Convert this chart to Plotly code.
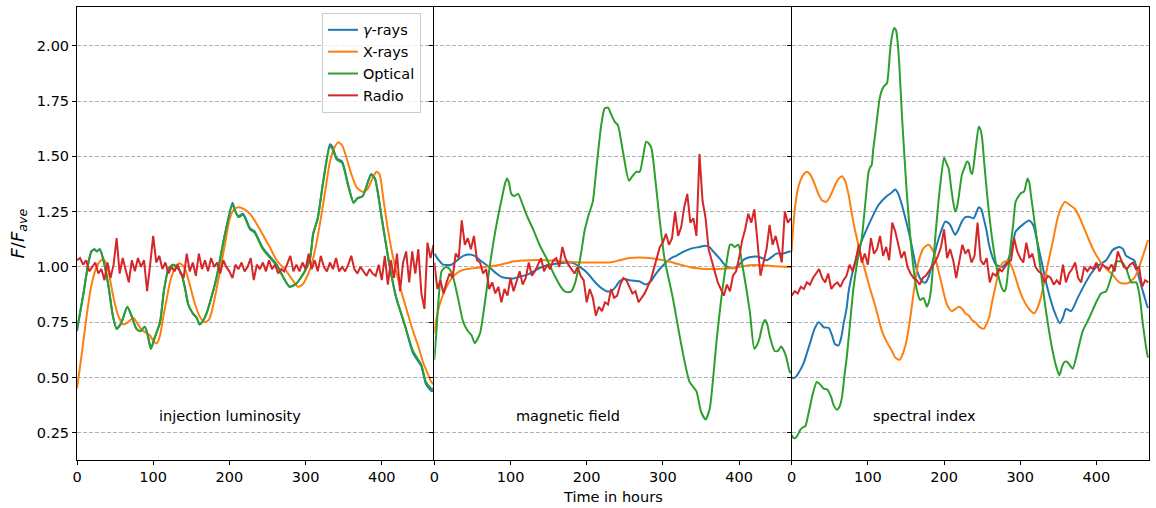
import plotly.graph_objects as go
from plotly.subplots import make_subplots

# ---------------------------------------------------------------- data
# (time in hours, F/F_ave) samples for the smooth light curves
gamma_inj = [(0, 0.71), (8, 0.87), (15, 1.02), (19, 1.07), (23, 1.08), (26, 1.07), (30, 1.08), (34, 1.04),
             (41, 0.92), (47, 0.78), (52, 0.72), (58, 0.745), (66, 0.82), (72, 0.775), (78, 0.72), (83, 0.71),
             (89, 0.73), (93, 0.69), (97, 0.63), (102, 0.68), (109, 0.75), (114, 0.89), (120, 0.99), (126, 1.01),
             (131, 1.00), (137, 0.97), (142, 0.90), (146, 0.83), (152, 0.79), (157, 0.77), (161, 0.74), (166, 0.76),
             (170, 0.79), (177, 0.87), (183, 0.95), (194, 1.145), (204, 1.29), (208, 1.25), (212, 1.23), (218, 1.24),
             (227, 1.175), (233, 1.16), (244, 1.085), (262, 1.01), (279, 0.91), (288, 0.925), (299, 0.98), (306, 1.04),
             (310, 1.15), (316, 1.22), (323, 1.385), (332, 1.555), (335, 1.545), (341, 1.49), (348, 1.476), (356, 1.37),
             (363, 1.29), (368, 1.31), (375, 1.32), (386, 1.42), (391, 1.40), (400, 1.22), (410, 1.01), (419, 0.86),
             (430, 0.74), (441, 0.61), (452, 0.55), (458, 0.47), (465, 0.44), (468, 0.44)]

xray_inj = [(0, 0.45), (6, 0.60), (12.7, 0.78), (18, 0.90), (23.6, 0.98), (29, 1.02), (34.5, 1.036), (39, 1.01),
            (43, 0.95), (48, 0.86), (54, 0.78), (61, 0.74), (67, 0.75), (74, 0.77), (80, 0.74), (85, 0.715),
            (96, 0.69), (101, 0.66), (105, 0.655), (109, 0.69), (113, 0.77), (118, 0.86), (122, 0.93), (128, 0.99),
            (133, 1.015), (138, 1.01), (142, 0.99), (148, 0.92), (155, 0.83), (162, 0.77), (168, 0.75), (173, 0.76),
            (177, 0.80), (182, 0.88), (187.5, 0.98), (194, 1.10), (200.6, 1.22), (206, 1.26), (211.6, 1.27), (220, 1.26),
            (227, 1.24), (235, 1.20), (244, 1.145), (253, 1.09), (262, 1.03), (275, 0.98), (283, 0.94), (290, 0.91),
            (296, 0.92), (301, 0.95), (306, 0.99), (310, 1.04), (315, 1.12), (321, 1.24), (327, 1.37), (332, 1.476),
            (338, 1.54), (343, 1.563), (348, 1.55), (354, 1.49), (360, 1.42), (367, 1.36), (375, 1.34), (381, 1.35),
            (386.5, 1.39), (393, 1.43), (397, 1.42), (402, 1.31), (408, 1.17), (415, 1.04), (421, 0.95), (428, 0.86),
            (434, 0.79), (441, 0.71), (448, 0.64), (454, 0.57), (460, 0.52), (465, 0.48), (468, 0.47)]

optical_inj = [(0, 0.72), (8, 0.87), (15, 1.02), (19, 1.07), (23, 1.08), (26, 1.07), (30, 1.08), (34, 1.04),
               (41, 0.92), (47, 0.78), (52, 0.72), (58, 0.745), (66, 0.82), (72, 0.775), (78, 0.72), (83, 0.71),
               (89, 0.73), (93, 0.69), (97, 0.63), (102, 0.68), (109, 0.75), (114, 0.89), (120, 0.99), (126, 1.01),
               (131, 1.00), (137, 0.97), (142, 0.90), (146, 0.83), (152, 0.79), (157, 0.77), (161, 0.74), (166, 0.76),
               (170, 0.79), (177, 0.87), (183, 0.95), (194, 1.145), (204, 1.28), (208, 1.25), (212, 1.225), (218, 1.235),
               (227, 1.17), (233, 1.155), (244, 1.08), (262, 1.005), (279, 0.91), (288, 0.925), (299, 0.98), (306, 1.04),
               (310, 1.15), (316, 1.22), (323, 1.38), (332, 1.545), (335, 1.535), (341, 1.485), (348, 1.47), (356, 1.365),
               (363, 1.29), (368, 1.31), (375, 1.32), (386, 1.415), (391, 1.40), (400, 1.22), (410, 1.01), (419, 0.86),
               (430, 0.74), (441, 0.62), (452, 0.557), (458, 0.48), (465, 0.45), (468, 0.45)]

gamma_mag = [(0, 1.06), (6, 1.03), (11.6, 1.01), (22.5, 1.01), (30, 1.03), (38, 1.05), (46, 1.056), (53, 1.05),
             (60, 1.03), (68, 1.01), (75, 0.99), (81.5, 0.97), (88, 0.955), (94.6, 0.95), (104, 0.948), (112, 0.955),
             (125, 0.97), (138, 0.995), (151.5, 1.01), (164.6, 1.017), (177.7, 1.02), (184, 1.015), (190.8, 1.0),
             (197, 0.985), (204, 0.96), (210, 0.935), (217, 0.91), (226, 0.89), (232, 0.89), (238, 0.91), (243, 0.935),
             (250, 0.945), (256, 0.94), (263, 0.937), (269, 0.935), (274, 0.925), (278, 0.92), (284, 0.935), (291, 0.97),
             (297, 0.995), (304, 1.02), (311, 1.04), (317.5, 1.05), (328, 1.07), (339, 1.085), (348, 1.09), (355, 1.096),
             (361, 1.09), (366, 1.07), (374, 1.04), (381, 1.01), (388, 0.995), (394, 0.995), (400, 1.01), (407, 1.035),
             (415, 1.045), (423, 1.047), (430, 1.04), (436, 1.03), (443, 1.045), (449, 1.06), (457.6, 1.06),
             (466.4, 1.07), (468, 1.07)]

xray_mag = [(0, 0.70), (3, 0.77), (7, 0.83), (11, 0.87), (16, 0.91), (22, 0.945), (29, 0.97), (35, 0.983), (42, 0.99),
            (60, 0.997), (81.5, 1.006), (103, 1.024), (125, 1.03), (147, 1.03), (169, 1.024), (191, 1.02), (213, 1.02),
            (230, 1.02), (243, 1.03), (256, 1.04), (270, 1.042), (282, 1.04), (295, 1.033), (308, 1.024), (321, 1.012),
            (334.6, 1.0), (348, 0.993), (361, 0.99), (374, 0.99), (387, 0.994), (400, 1.0), (414, 1.008), (427, 1.008),
            (440, 1.005), (453, 1.002), (466, 1.0), (468, 1.0)]

optical_mag = [(0, 0.58), (3, 0.72), (5, 0.83), (9.4, 0.98), (11.6, 0.99), (15, 1.0), (20, 0.99), (25, 0.95),
               (31, 0.86), (38, 0.75), (44, 0.71), (49, 0.69), (53, 0.655), (56, 0.67), (60, 0.70), (66, 0.83),
               (73, 1.01), (81.5, 1.19), (89.5, 1.325), (93, 1.38), (95.5, 1.40), (98, 1.38), (101, 1.33), (105, 1.32),
               (110, 1.33), (115, 1.29), (121, 1.235), (130, 1.167), (138, 1.10), (147, 1.04), (158, 0.96), (166, 0.91),
               (171, 0.89), (176, 0.885), (180, 0.89), (185, 0.93), (189, 0.994), (193, 1.07), (197, 1.16), (203, 1.24),
               (208, 1.295), (212, 1.42), (215, 1.52), (219, 1.64), (223.6, 1.717), (228, 1.72), (232, 1.69),
               (236.6, 1.657), (241, 1.64), (247.6, 1.52), (255.4, 1.39), (260, 1.41), (265, 1.43), (269.6, 1.43),
               (274, 1.50), (278, 1.566), (281, 1.56), (285, 1.536), (289, 1.43), (293.6, 1.28), (302, 1.04),
               (313, 0.86), (324, 0.65), (335, 0.48), (344, 0.437), (350, 0.346), (356, 0.31), (361.5, 0.36),
               (366, 0.50), (370, 0.65), (379, 0.92), (384, 1.03), (388, 1.10), (391, 1.10), (394, 1.09), (399, 1.10),
               (405, 0.994), (414, 0.80), (420, 0.63), (424, 0.65), (427, 0.68), (431, 0.74), (434, 0.76), (437, 0.74),
               (440, 0.69), (446.6, 0.62), (451, 0.62), (455, 0.64), (459, 0.62), (462, 0.59), (466.4, 0.527),
               (468, 0.52)]

gamma_spec = [(0, 0.50), (2.6, 0.497), (6, 0.505), (9, 0.52), (15.7, 0.565), (20, 0.61), (24.5, 0.66), (30, 0.72),
              (35.4, 0.75), (40, 0.735), (42, 0.727), (48.5, 0.725), (53, 0.69), (57, 0.65), (61.6, 0.645), (65, 0.68),
              (68, 0.74), (72, 0.81), (74.8, 0.89), (81, 0.99), (90, 1.10), (101, 1.19), (114, 1.28), (125, 1.32),
              (131, 1.335), (136, 1.35), (140, 1.33), (144.7, 1.28), (150, 1.21), (155.6, 1.13), (164, 0.99),
              (169, 0.945), (173, 0.93), (176, 0.93), (179.7, 0.955), (185, 1.02), (190.6, 1.10), (196, 1.16),
              (201.5, 1.205), (205, 1.20), (208, 1.19), (214.6, 1.145), (219, 1.17), (223.4, 1.205), (228, 1.225),
              (232.5, 1.227), (239, 1.22), (245.6, 1.27), (249, 1.26), (252, 1.22), (256, 1.16), (259, 1.10),
              (264, 1.04), (268, 1.01), (276.4, 1.0), (280, 1.01), (285, 1.04), (290, 1.10), (294, 1.16), (303, 1.19),
              (311.5, 1.21), (315, 1.20), (318, 1.18), (322, 1.12), (327, 1.04), (336, 0.90), (344.6, 0.80),
              (352, 0.745), (356, 0.77), (360, 0.81), (366.7, 0.80), (375.4, 0.86), (386, 0.93), (393, 0.97),
              (399.7, 1.0), (412.8, 1.03), (421.5, 1.077), (430, 1.09), (435, 1.08), (439, 1.05), (444, 1.04),
              (449.7, 1.03), (456, 0.95), (462.6, 0.87), (467, 0.82), (468, 0.815)]

xray_spec = [(0, 1.07), (2, 1.18), (4.8, 1.28), (8, 1.35), (11.4, 1.39), (16, 1.42), (20, 1.43), (24, 1.42),
             (29, 1.385), (35, 1.33), (40, 1.30), (46, 1.295), (52, 1.33), (57, 1.37), (62, 1.40), (66, 1.41),
             (70, 1.39), (74.8, 1.325), (79, 1.24), (83.5, 1.16), (92, 1.04), (103, 0.90), (110, 0.82), (118.5, 0.71),
             (125, 0.66), (131.6, 0.62), (136, 0.59), (141.6, 0.58), (145, 0.60), (149, 0.64), (154, 0.73), (158, 0.83),
             (162, 0.93), (166.6, 1.024), (173, 1.084), (179.7, 1.10), (186, 1.07), (190, 1.02), (195, 0.95),
             (203.7, 0.83), (210, 0.80), (215, 0.81), (219, 0.82), (224, 0.81), (227.8, 0.79), (232.5, 0.78),
             (236.5, 0.76), (241, 0.75), (246, 0.73), (252, 0.72), (259, 0.77), (263, 0.84), (268, 0.92), (272, 0.98),
             (276.4, 1.016), (280, 1.025), (285, 1.024), (289, 1.0), (294, 0.95), (298, 0.905), (303, 0.86),
             (311.5, 0.81), (318, 0.79), (322, 0.81), (327, 0.86), (332, 0.94), (338, 1.04), (343, 1.12), (349, 1.22),
             (354, 1.27), (359, 1.295), (365, 1.28), (371, 1.265), (377, 1.23), (382, 1.19), (388, 1.14), (395, 1.084),
             (402, 1.04), (408, 1.01), (415, 0.985), (421.5, 0.964), (427, 0.94), (432.5, 0.926), (437, 0.925),
             (441, 0.926), (445, 0.935), (449.7, 0.95), (454, 0.98), (458.5, 1.024), (463, 1.07), (467, 1.114),
             (468, 1.12)]

optical_spec = [(0, 0.24), (2, 0.228), (4.8, 0.226), (8, 0.24), (11.4, 0.264), (15, 0.275), (18, 0.28), (21, 0.32),
                (24.5, 0.376), (28, 0.43), (33, 0.48), (37, 0.47), (42, 0.45), (46, 0.447), (48.5, 0.437), (52, 0.41),
                (55, 0.376), (59.5, 0.354), (63, 0.37), (66, 0.41), (69, 0.50), (72.6, 0.60), (77, 0.76), (81, 0.90),
                (86, 1.02), (92, 1.13), (97, 1.30), (101, 1.43), (103, 1.45), (105, 1.46), (107, 1.53), (110, 1.61),
                (115.4, 1.76), (118, 1.795), (120.7, 1.815), (125, 1.83), (127, 1.88), (129, 1.97), (131, 2.03),
                (134.6, 2.08), (137, 2.07), (139, 2.02), (141, 1.93), (144.7, 1.687), (148, 1.50), (151, 1.34),
                (158, 1.054), (164, 0.90), (168.7, 0.85), (173, 0.86), (177.5, 0.82), (180, 0.84), (182.7, 0.89),
                (185, 0.98), (188.4, 1.13), (192, 1.27), (195, 1.37), (200, 1.494), (203, 1.47), (206, 1.446),
                (210, 1.34), (214.6, 1.25), (217, 1.27), (219, 1.31), (223.4, 1.416), (227, 1.45), (230, 1.476),
                (232.5, 1.47), (235, 1.43), (237, 1.42), (241, 1.52), (245.6, 1.634), (248, 1.62), (250, 1.58),
                (253, 1.46), (256.6, 1.325), (263, 1.13), (270, 0.98), (276.4, 0.90), (279, 0.89), (281, 0.90),
                (284, 0.98), (287.6, 1.10), (291, 1.20), (294, 1.295), (300.7, 1.333), (305, 1.34), (309.5, 1.40),
                (312, 1.38), (314, 1.325), (320.5, 1.16), (327, 0.98), (333.8, 0.80), (342.5, 0.62), (348, 0.54),
                (351.3, 0.51), (355, 0.55), (358, 0.57), (362, 0.57), (366, 0.55), (369, 0.54), (375.4, 0.62),
                (382, 0.71), (390.6, 0.77), (399.7, 0.84), (406, 0.88), (412.8, 0.89), (419, 0.95), (426, 1.024),
                (432.5, 1.024), (439, 0.994), (445.7, 0.93), (452.3, 0.93), (456.6, 0.87), (461, 0.74), (467, 0.60),
                (468, 0.59)]

# radio light curves, sampled every 4 hours from 0 to 468 h
radio_t = list(range(0, 469, 4))

radio_inj = [1.03, 1.04, 1.01, 1.03, 0.98, 1.00, 1.02, 0.97, 0.99, 0.94,
             1.02, 0.95, 1.01, 1.13, 0.97, 1.04, 0.99, 0.93, 1.03, 0.98,
             1.04, 1.00, 1.03, 0.89, 1.01, 1.14, 1.02, 1.05, 0.99, 1.02,
             0.97, 1.00, 0.98, 1.01, 0.97, 0.95, 1.06, 0.98, 1.02, 0.96,
             1.06, 0.99, 1.03, 0.98, 1.04, 1.00, 1.02, 0.97, 1.03, 1.00,
             0.98, 0.95, 1.01, 0.99, 1.02, 0.98, 1.00, 1.04, 0.94, 1.01,
             0.99, 1.02, 0.98, 1.03, 0.99, 1.01, 0.97, 0.99, 0.98, 1.02,
             1.05, 0.98, 1.01, 0.98, 1.02, 0.99, 1.06, 0.99, 1.03, 0.98,
             1.05, 1.00, 0.98, 1.02, 0.99, 1.04, 0.98, 1.00, 0.98, 1.01,
             1.05, 0.99, 0.97, 1.00, 0.98, 0.96, 0.99, 0.97, 0.96, 1.01,
             0.94, 1.05, 0.92, 1.03, 0.95, 1.06, 0.89, 1.02, 1.07, 0.93,
             1.07, 0.97, 1.08, 0.88, 0.81, 1.11, 1.04, 1.10]

radio_mag = [1.02, 0.90, 0.94, 0.88, 0.93, 0.97, 0.95, 1.06, 1.04, 1.21,
             1.10, 1.13, 1.08, 1.14, 1.03, 1.02, 0.97, 0.99, 0.90, 0.93,
             0.88, 0.91, 0.84, 0.90, 0.87, 0.95, 0.89, 0.93, 0.98, 0.92,
             0.95, 1.02, 0.96, 0.98, 1.01, 1.04, 0.98, 1.01, 0.99, 1.03,
             1.04, 1.00, 1.09, 1.04, 1.01, 0.99, 0.97, 1.00, 0.96, 0.94,
             0.84, 0.90, 0.86, 0.78, 0.82, 0.80, 0.84, 0.83, 0.90, 0.86,
             0.87, 0.92, 0.95, 0.94, 0.91, 0.88, 0.89, 0.84, 0.86, 0.88,
             0.91, 0.94, 0.99, 1.04, 1.09, 1.11, 1.15, 1.10, 1.13, 1.25,
             1.14, 1.18, 1.27, 1.33, 1.20, 1.22, 1.14, 1.51, 1.30, 1.22,
             1.08, 1.03, 0.98, 0.93, 0.90, 0.87, 0.92, 0.89, 0.96, 0.98,
             1.04, 1.12, 1.17, 1.24, 1.20, 1.26, 1.12, 0.96, 1.02, 1.08,
             1.19, 1.10, 1.14, 1.08, 1.02, 1.25, 1.20, 1.22]

radio_spec = [0.87, 0.89, 0.88, 0.91, 0.90, 0.93, 0.92, 0.95, 0.97, 0.99,
              0.95, 0.93, 0.97, 0.90, 0.92, 0.93, 0.91, 0.94, 0.96, 1.01,
              0.98, 1.03, 1.10, 1.02, 1.06, 1.01, 1.13, 1.06, 1.08, 1.14,
              1.05, 1.09, 1.03, 1.20, 1.16, 1.10, 1.04, 1.07, 1.00, 0.97,
              0.95, 0.94, 0.92, 0.95, 0.96, 0.98, 1.00, 1.02, 1.05, 1.09,
              1.17, 1.04, 1.08, 1.03, 0.95, 1.02, 1.10, 1.06, 1.08, 1.02,
              1.05, 1.20, 1.03, 1.01, 1.04, 0.93, 0.97, 0.96, 0.99, 0.98,
              1.00, 1.02, 1.03, 1.13, 1.07, 1.04, 1.02, 1.11, 1.04, 1.06,
              1.00, 0.98, 0.97, 0.93, 0.96, 0.95, 0.92, 0.94, 0.92, 1.01,
              0.93, 0.97, 0.99, 1.02, 0.95, 0.93, 1.00, 0.98, 1.00, 0.99,
              1.02, 0.98, 1.01, 1.00, 0.99, 1.01, 0.98, 1.07, 1.03, 1.00,
              0.99, 1.01, 1.02, 0.99, 1.00, 0.91, 0.94, 0.93]

panel_titles = ["injection luminosity", "magnetic field", "spectral index"]
y_ticks = [0.25, 0.50, 0.75, 1.00, 1.25, 1.50, 1.75, 2.00]
x_ticks = [0, 100, 200, 300, 400]

# ---------------------------------------------------------------- style
FONT = "DejaVu Sans"
FS = 14.5
BLUE, ORANGE, GREEN, RED = "#1f77b4", "#ff7f0e", "#2ca02c", "#d62728"
LW = 2

panels = [
    (gamma_inj, xray_inj, optical_inj, radio_inj),
    (gamma_mag, xray_mag, optical_mag, radio_mag),
    (gamma_spec, xray_spec, optical_spec, radio_spec),
]

fig = make_subplots(rows=1, cols=3, shared_yaxes=True, horizontal_spacing=0)

for col, (gam, xr, opt, rad) in enumerate(panels, start=1):
    first = col == 1
    for name, pts, color in [("<i>γ</i>-rays", gam, BLUE), ("X-rays", xr, ORANGE), ("Optical", opt, GREEN)]:
        fig.add_trace(go.Scatter(
            x=[p[0] for p in pts], y=[p[1] for p in pts], mode="lines", name=name,
            line=dict(color=color, width=LW, shape="spline", smoothing=0.6),
            showlegend=first, legendgroup=name), row=1, col=col)
    fig.add_trace(go.Scatter(
        x=radio_t, y=rad, mode="lines", name="Radio",
        line=dict(color=RED, width=LW), showlegend=first, legendgroup="Radio"), row=1, col=col)

tick_style = dict(ticks="outside", ticklen=4, tickcolor="black", tickwidth=1, zeroline=False,
                  tickfont=dict(family=FONT, size=FS, color="black"))

for col in range(1, 4):
    fig.update_xaxes(range=[0, 469], tickvals=x_ticks, showgrid=False,
                     showline=True, linecolor="black", linewidth=1, mirror=True,
                     **tick_style, row=1, col=col)
    # each panel draws its own left spine; only the last one also draws the right spine
    fig.update_yaxes(range=[0.127, 2.175], tickvals=y_ticks, ticktext=[f"{v:.2f}" for v in y_ticks],
                     showgrid=True, gridcolor="#b0b0b0", gridwidth=1, griddash="4px,2px",
                     showline=True, linecolor="black", linewidth=1, mirror=(col == 3),
                     showticklabels=(col == 1), **tick_style, row=1, col=col)

annotations = []
for x_center, title in zip([0.1427, 0.458, 0.791], panel_titles):
    annotations.append(dict(text=title, x=x_center, y=0.097, xref="paper", yref="paper",
                            showarrow=False, xanchor="center", yanchor="middle",
                            font=dict(family=FONT, size=FS, color="black")))
annotations.append(dict(text="Time in hours", x=0.5, y=-0.081, xref="paper", yref="paper",
                        showarrow=False, xanchor="center", yanchor="middle",
                        font=dict(family=FONT, size=FS, color="black")))
annotations.append(dict(text="<i>F</i>/<i>F</i><sub><i>ave</i></sub>", x=-0.055, y=0.50,
                        xref="paper", yref="paper", showarrow=False, textangle=-90,
                        xanchor="center", yanchor="middle",
                        font=dict(family=FONT, size=18, color="black")))

fig.update_layout(
    width=1156, height=508,
    margin=dict(l=77, r=7, t=7, b=48),
    plot_bgcolor="white", paper_bgcolor="white",
    annotations=annotations,
    legend=dict(x=0.2285, y=0.987, xanchor="left", yanchor="top",
                bgcolor="rgba(255,255,255,0.8)", bordercolor="#cccccc", borderwidth=1,
                font=dict(family=FONT, size=FS, color="black"), itemwidth=30,
                tracegroupgap=0),
    font=dict(family=FONT),
)

fig.write_html("out.html")
